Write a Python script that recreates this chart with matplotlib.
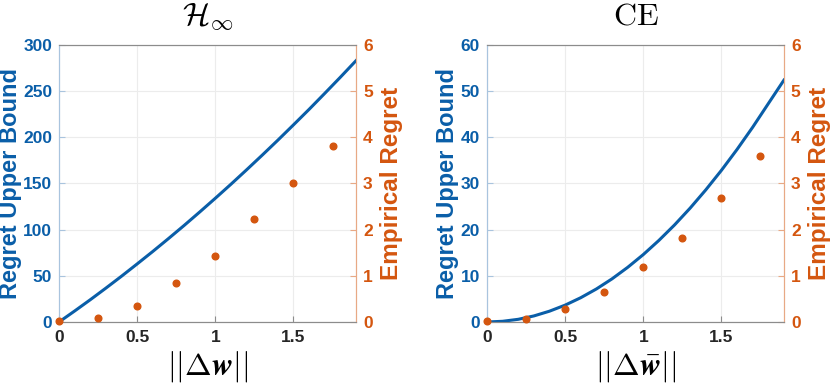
import matplotlib
matplotlib.use('Agg')
from matplotlib import pyplot as plt

plt.rcParams['mathtext.fontset'] = 'cm'
plt.rcParams['font.family'] = ['Liberation Sans', 'DejaVu Sans']

# curve samples (x = 0, 0.1, ..., 1.9)
x_curve = [0.0, 0.1, 0.2, 0.3, 0.4, 0.5, 0.6, 0.7, 0.8, 0.9,
           1.0, 1.1, 1.2, 1.3, 1.4, 1.5, 1.6, 1.7, 1.8, 1.9]
bound_hinf = [0.0, 11.9, 24.1, 36.7, 49.6, 62.9, 76.4, 90.3, 104.5, 119.1,
              134.0, 149.2, 164.8, 180.7, 196.9, 213.5, 230.3, 247.6, 265.1, 283.0]
bound_ce = [0.0, 0.15, 0.58, 1.31, 2.34, 3.65, 5.26, 7.15, 9.34, 11.83,
            14.6, 17.67, 21.02, 24.67, 28.62, 32.85, 37.38, 42.19, 47.3, 52.4]

# empirical regret points
x_pts = [0, 0.25, 0.5, 0.75, 1.0, 1.25, 1.5, 1.75]
emp_hinf = [0.02, 0.09, 0.35, 0.85, 1.44, 2.24, 3.01, 3.81]
emp_ce = [0.02, 0.07, 0.29, 0.65, 1.19, 1.82, 2.69, 3.60]

titles = [r'$\mathcal{H}_\infty$', r'$\mathrm{CE}$']
xlabels = [r'$||\mathbf{\Delta} \boldsymbol{w}||$', r'$||\mathbf{\Delta} \bar{\boldsymbol{w}}||$']
bounds = [bound_hinf, bound_ce]
emps = [emp_hinf, emp_ce]
ylims = [(0, 300), (0, 60)]
yticks = [[0, 50, 100, 150, 200, 250, 300], [0, 10, 20, 30, 40, 50, 60]]

blue = '#0a5ea8'
orange = '#d4560f'
lblue = '#a9c4de'
lorange = '#e8a985'

fig = plt.figure(figsize=(8.3, 3.83), dpi=100)
lefts = [0.0711, 0.5867]

for i in range(2):
    ax = fig.add_axes([lefts[i], 0.1593, 0.3578, 0.7232])
    ax2 = ax.twinx()

    ax.plot(x_curve, bounds[i], color=blue, lw=2.2, zorder=3)
    ax2.plot(x_pts, emps[i], 'o', color=orange, ms=4.8, clip_on=False, zorder=4)

    ax.set_xlim(0, 1.9)
    ax.set_ylim(*ylims[i])
    ax2.set_ylim(0, 6)
    ax.set_xticks([0, 0.5, 1, 1.5])
    ax.set_xticklabels(['0', '0.5', '1', '1.5'])
    ax.set_yticks(yticks[i])
    ax2.set_yticks([0, 1, 2, 3, 4, 5, 6])

    ax.grid(True, color='#ececec', lw=0.8)
    ax.set_axisbelow(True)

    for a in (ax, ax2):
        a.spines['top'].set_color('#8c8c8c')
        a.spines['bottom'].set_color('#8c8c8c')
        a.spines['left'].set_color(lblue)
        a.spines['right'].set_color(lorange)
    ax.tick_params(axis='x', direction='in', length=4, color='#8c8c8c',
                   labelsize=12.5, labelcolor='#262626', pad=6)
    ax.tick_params(axis='y', direction='in', length=4, color=lblue,
                   labelsize=12.5, labelcolor=blue, pad=5)
    ax2.tick_params(axis='y', direction='in', length=4, color=lorange,
                    labelsize=12.5, labelcolor=orange, pad=5)
    for lab in ax.get_xticklabels() + ax.get_yticklabels() + ax2.get_yticklabels():
        lab.set_fontweight('bold')

    ax.set_ylabel('Regret Upper Bound', color=blue, fontsize=17,
                  fontweight='bold', labelpad=1)
    ax2.set_ylabel('Empirical Regret', color=orange, fontsize=17.5,
                   fontweight='bold', labelpad=5)
    ax.set_xlabel(xlabels[i], fontsize=23, labelpad=3)
    ax.set_title(titles[i], fontsize=23, pad=15)

fig.savefig('out.png', dpi=100)
